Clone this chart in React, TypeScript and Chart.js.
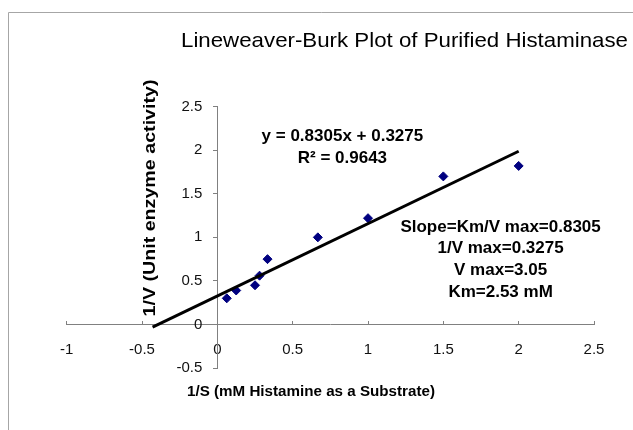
import React, { useEffect, useRef } from "react";
import { Chart, registerables } from "chart.js";

Chart.register(...registerables);

const substrateInv = [0.0625, 0.125, 0.25, 0.28, 0.333, 0.667, 1.0, 1.5, 2.0];
const velocityInv = [0.3, 0.39, 0.45, 0.56, 0.75, 1.0, 1.22, 1.7, 1.82];
const trendX = [-0.43, 2.0];
const trendY = [-0.03, 1.9885];
const chartTitle = "Lineweaver-Burk Plot of Purified Histaminase";
const xTitle = "1/S (mM Histamine as a Substrate)";
const yTitle = "1/V (Unit enzyme activity)";
const equationLines = ["y = 0.8305x + 0.3275", "R² = 0.9643"];
const kineticsLines = ["Slope=Km/V max=0.8305", "1/V max=0.3275", "V max=3.05", "Km=2.53 mM"];

const FONT = "'Liberation Sans', Arial, sans-serif";

function stretchText(ctx: any, text: string, cx: number, cy: number, target: number, angle = 0) {
  const w = ctx.measureText(text).width;
  ctx.save();
  ctx.translate(cx, cy);
  if (angle) ctx.rotate(angle);
  ctx.scale(target / w, 1);
  ctx.fillText(text, 0, 0);
  ctx.restore();
}

export default function App() {
  const ref = useRef<HTMLCanvasElement | null>(null);
  useEffect(() => {
    const canvas = ref.current!;
    const decor = {
      id: "decor",
      beforeDraw(chart: any) {
        const ctx = chart.ctx;
        ctx.save();
        ctx.fillStyle = "#fff";
        ctx.fillRect(0, 0, chart.width, chart.height);
        ctx.strokeStyle = "#a6a6a6";
        ctx.lineWidth = 1;
        ctx.beginPath();
        ctx.moveTo(8.5, 440);
        ctx.lineTo(8.5, 12.5);
        ctx.lineTo(640, 12.5);
        ctx.stroke();
        ctx.restore();
      },
      afterDraw(chart: any) {
        const ctx = chart.ctx;
        const xs = chart.scales.x;
        const ys = chart.scales.y;
        ctx.save();
        // y tick labels, placed left of the y axis (which crosses at x = 0)
        const axisX = xs.getPixelForValue(0);
        ctx.fillStyle = "#111";
        ctx.font = `15px ${FONT}`;
        ctx.textAlign = "right";
        ctx.textBaseline = "middle";
        ys.ticks.forEach((t: any) => {
          ctx.fillText(String(Number(t.value)), axisX - 15, ys.getPixelForValue(t.value));
        });
        ctx.fillStyle = "#000";
        ctx.textAlign = "center";
        ctx.font = `21px ${FONT}`;
        stretchText(ctx, chartTitle, 404.5, 41, 447);
        ctx.font = `bold 15px ${FONT}`;
        stretchText(ctx, xTitle, 311, 392, 248);
        ctx.font = `bold 16px ${FONT}`;
        stretchText(ctx, yTitle, 151, 198, 237, -Math.PI / 2);
        ctx.font = `bold 17px ${FONT}`;
        ctx.fillText(equationLines[0], xs.getPixelForValue(0.83), ys.getPixelForValue(2.16));
        ctx.fillText(equationLines[1], xs.getPixelForValue(0.83), ys.getPixelForValue(1.91));
        kineticsLines.forEach((t, i) => {
          ctx.fillText(t, xs.getPixelForValue(1.88), ys.getPixelForValue(1.12 - i * 0.25));
        });
        ctx.restore();
      },
    };
    const fmt = (v: any) => String(Number(v));
    const chart = new Chart(canvas, {
      type: "scatter",
      data: {
        datasets: [
          {
            type: "line",
            data: trendX.map((x, i) => ({ x, y: trendY[i] })),
            borderColor: "#000",
            borderWidth: 3,
            pointRadius: 0,
            fill: false,
          } as any,
          {
            data: substrateInv.map((x, i) => ({ x, y: velocityInv[i] })),
            pointStyle: "rectRot",
            pointRadius: 4.5,
            backgroundColor: "#000080",
            borderColor: "#000080",
          },
        ],
      },
      plugins: [decor],
      options: {
        animation: false,
        responsive: false,
        layout: { padding: { left: 66.7, right: 39, top: 106.7, bottom: 62 } },
        plugins: { legend: { display: false }, tooltip: { enabled: false }, title: { display: false } },
        scales: {
          x: {
            type: "linear",
            position: { y: 0 } as any,
            min: -1,
            max: 2.5,
            border: { color: "#808080", width: 1 },
            grid: { drawOnChartArea: false, tickLength: -4, color: "#808080" },
            ticks: { stepSize: 0.5, padding: 20, color: "#111", font: { family: FONT, size: 15 }, callback: fmt },
          },
          y: {
            type: "linear",
            position: { x: 0 } as any,
            min: -0.5,
            max: 2.5,
            border: { color: "#808080", width: 1 },
            grid: { drawOnChartArea: false, tickLength: 4, color: "#808080" },
            ticks: { stepSize: 0.5, display: false, callback: fmt },
          },
        },
      },
    });
    return () => chart.destroy();
  }, []);
  return (
    <div style={{ position: "fixed", left: 0, top: 0, width: 633, height: 430 }}>
      <canvas ref={ref} width={633} height={430} style={{ display: "block" }} />
    </div>
  );
}
